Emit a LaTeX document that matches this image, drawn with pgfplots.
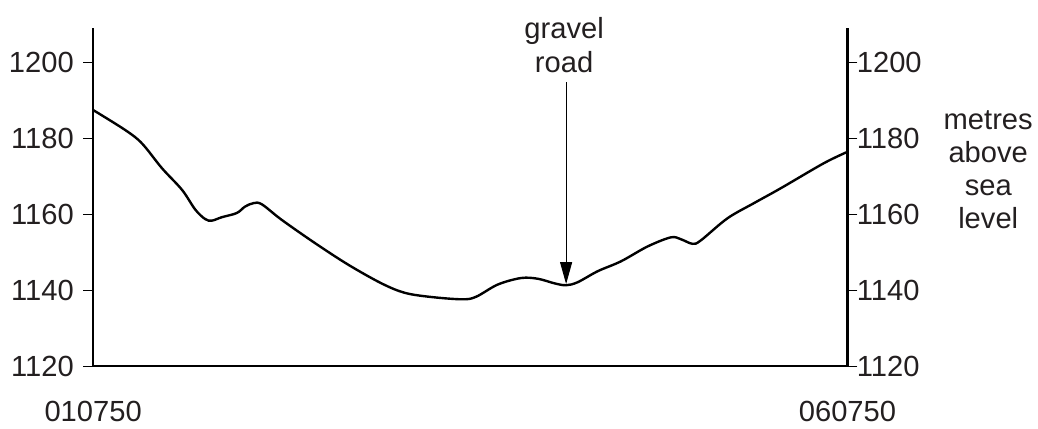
\documentclass[border=0pt]{standalone}
\usepackage{fontspec}
\setmainfont{Liberation Sans}
\usepackage{pgfplots}
\pgfplotsset{compat=1.18}
\usetikzlibrary{arrows.meta}
\definecolor{txt}{RGB}{35,31,32}
\begin{document}
\begin{tikzpicture}
\pgfplotsset{
  common/.style={
    scale only axis, width=378pt, height=169.5pt,
    xmin=0, xmax=5, ymin=1120, ymax=1209,
    ytick={1120,1140,1160,1180,1200},
    tick align=outside, major tick length=5pt,
    tick style={line width=0.6pt, black},
    axis line style={-, line width=1.3pt, black},
    /pgf/number format/assume math mode=true,
    /pgf/number format/1000 sep={},
    every tick label/.append style={font=\fontsize{14.6}{17}\selectfont, text=txt},
    clip=false,
  }
}
\begin{axis}[common,
  axis x line*=bottom, axis y line*=left,
  xtick={0,5}, xticklabels={010750,060750},
  x tick style={draw=none},
  xticklabel style={yshift=-9pt},
  yticklabel style={inner xsep=4.5pt},
]
\addplot[black, line width=1.2pt, smooth, tension=0.55] coordinates {
(0,1187.4) (0.214,1182.1) (0.324,1178.6) (0.456,1172.1) (0.589,1166.4)
(0.677,1161.2) (0.743,1158.7) (0.787,1158.3) (0.853,1159.2) (0.952,1160.3)
(1.007,1162.0) (1.063,1162.9) (1.118,1162.6) (1.250,1158.5) (1.470,1152.4)
(1.691,1146.7) (1.911,1141.8) (2.066,1139.3) (2.242,1138.2) (2.450,1137.6)
(2.540,1138.3) (2.683,1141.5) (2.837,1143.2) (2.948,1143.0) (3.058,1141.8)
(3.135,1141.3) (3.212,1142.1) (3.345,1145.0) (3.499,1147.6) (3.675,1151.5)
(3.829,1153.9) (3.896,1153.4) (3.973,1152.2) (4.028,1153.1) (4.204,1158.9)
(4.380,1162.9) (4.557,1166.8) (4.843,1173.4) (5.0,1176.4)
};
\draw[black, line width=0.5pt, -{Triangle[length=11pt,width=6pt]}]
  (axis cs:3.135,1194.7) -- (axis cs:3.135,1141.6);
\node[align=center, inner sep=0pt, text=txt, font=\fontsize{14.6}{17}\selectfont]
  at (axis cs:3.122,1204.4) {gravel\\road};
\node[align=center, inner sep=0pt, text=txt, font=\fontsize{14.6}{16.5}\selectfont]
  at (axis cs:5.933,1171.6) {metres\\above\\sea\\level};
\coordinate (bl) at (rel axis cs:-0.1204,-0.1534);
\coordinate (tr) at (rel axis cs:1.2526,1.0826);
\end{axis}
\begin{axis}[common,
  axis x line=none, axis y line*=right,
  yticklabel style={inner xsep=0pt, xshift=-0.5pt},
]
\end{axis}
\path (bl) rectangle (tr);
\end{tikzpicture}
\end{document}
